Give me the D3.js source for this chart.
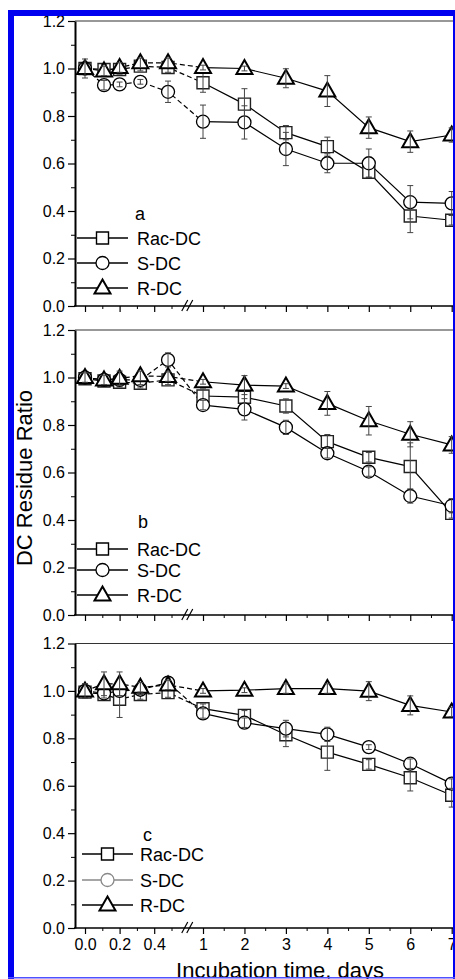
<!DOCTYPE html>
<html><head><meta charset="utf-8">
<script src="https://cdn.jsdelivr.net/npm/d3@7"></script>
<style>
html,body{margin:0;padding:0;background:#fff;overflow:hidden;}
svg{display:block;}
text{font-family:"Liberation Sans",Arial,sans-serif;fill:#000;}
</style></head><body>
<svg id="chart" width="455" height="979"></svg>
<script>
// ---- data ----
const times = [0, 0.11, 0.2, 0.32, 0.48, 1, 2, 3, 4, 5, 6, 7];
const xMajorTicks = [0, 0.2, 0.4, 1, 2, 3, 4, 5, 6, 7];
const xMinorTicks = [0.1, 0.3, 0.5, 1.5, 2.5, 3.5, 4.5, 5.5, 6.5];
const xTickLabels = ["0.0", "0.2", "0.4", "1", "2", "3", "4", "5", "6", "7"];
const yMajorTicks = [0, 0.2, 0.4, 0.6, 0.8, 1.0, 1.2];
const yMinorTicks = [0.1, 0.3, 0.5, 0.7, 0.9, 1.1];
const seriesNames = ["Rac-DC", "S-DC", "R-DC"];
const panelLetters = ["a", "b", "c"];

const racA = [1.00, 0.996, 0.996, 1.01, 1.004, 0.94, 0.85, 0.73, 0.671, 0.563, 0.379, 0.361];
const sA   = [1.00, 0.93, 0.933, 0.944, 0.902, 0.776, 0.773, 0.661, 0.601, 0.601, 0.437, 0.432];
const rA   = [1.00, 0.99, 1.004, 1.024, 1.024, 1.004, 1.0, 0.959, 0.905, 0.751, 0.692, 0.72];
const racErrA = [0.02, 0.02, 0.02, 0.02, 0.02, 0.04, 0.065, 0.03, 0.04, 0.02, 0.07, 0.02];
const sErrA   = [0.02, 0.02, 0.01, 0.01, 0.045, 0.07, 0.07, 0.07, 0.04, 0.06, 0.07, 0.05];
const rErrA   = [0.04, 0.02, 0.02, 0.02, 0.02, 0.01, 0.01, 0.04, 0.065, 0.045, 0.045, 0.03];

const racB = [0.995, 0.985, 0.98, 0.976, 0.99, 0.922, 0.917, 0.88, 0.73, 0.664, 0.625, 0.428];
const sB   = [1.0, 0.99, 0.99, 0.99, 1.074, 0.884, 0.866, 0.79, 0.681, 0.604, 0.501, 0.46];
const rB   = [1.0, 0.99, 0.997, 1.007, 1.004, 0.982, 0.968, 0.964, 0.891, 0.818, 0.761, 0.716];
const racErrB = [0.02, 0.02, 0.02, 0.02, 0.02, 0.03, 0.03, 0.03, 0.03, 0.02, 0.1, 0.02];
const sErrB   = [0.02, 0.02, 0.02, 0.02, 0.03, 0.02, 0.045, 0.03, 0.02, 0.02, 0.03, 0.03];
const rErrB   = [0.02, 0.02, 0.03, 0.02, 0.02, 0.01, 0.04, 0.01, 0.05, 0.06, 0.053, 0.035];

const racC = [0.995, 0.985, 0.965, 0.985, 0.993, 0.925, 0.897, 0.815, 0.742, 0.69, 0.634, 0.56];
const sC   = [1.0, 0.99, 1.0, 1.005, 1.035, 0.905, 0.866, 0.841, 0.817, 0.763, 0.693, 0.609];
const rC   = [1.0, 1.03, 1.03, 1.015, 1.025, 1.0, 1.003, 1.01, 1.01, 0.999, 0.939, 0.911];
const racErrC = [0.02, 0.02, 0.077, 0.02, 0.02, 0.02, 0.02, 0.05, 0.077, 0.02, 0.056, 0.05];
const sErrC   = [0.03, 0.02, 0.02, 0.02, 0.02, 0.02, 0.02, 0.035, 0.03, 0.01, 0.02, 0.02];
const rErrC   = [0.03, 0.05, 0.05, 0.02, 0.02, 0.01, 0.01, 0.02, 0.02, 0.04, 0.04, 0.02];

const panelsValues = [[racA, sA, rA], [racB, sB, rB], [racC, sC, rC]];
const panelsErrors = [[racErrA, sErrA, rErrA], [racErrB, sErrB, rErrB], [racErrC, sErrC, rErrC]];

// ---- layout ----
const svg = d3.select("#chart");
const W = 455, H = 979;
const axisX = 75;
const panelTop = [21, 330, 643.5];
const panelBottom = [306, 615, 928];
const legendRows = [[-68, -43, -18], [-66, -45, -20], [-74, -48, -23]];
const legendLabelY = [-86, -87, -87];
const legendX = [[77, 128, 137, 135], [77, 128, 137, 138], [82, 133, 140, 143]];

const x = d3.scaleLinear().domain([0, 0.5, 1, 7]).range([85, 171.5, 203, 451.7]);

function markerPath(kind) {
  if (kind === 0) return "M-6,-6H6V6H-6Z";
  if (kind === 1) return d3.symbol(d3.symbolCircle, Math.PI * 6.5 * 6.5)();
  return "M0,-8.5L8,5.5L-8,5.5Z";
}
const markerStroke = [1.4, 1.3, 2];

panelsValues.forEach((vals, p) => {
  const top = panelTop[p], bot = panelBottom[p];
  const y = d3.scaleLinear().domain([0, 1.2]).range([bot, top]);
  const g = svg.append("g");

  // top frame line
  g.append("line").attr("x1", axisX).attr("x2", W).attr("y1", top).attr("y2", top)
    .attr("stroke", "#333").attr("stroke-width", 1.2);

  // y axis
  const yAxis = g.append("g").attr("transform", `translate(${axisX},0)`)
    .call(d3.axisLeft(y).tickValues(yMajorTicks).tickFormat(d3.format(".1f")).tickSize(7).tickSizeOuter(0).tickPadding(3));
  yAxis.select(".domain").attr("stroke-width", 2);
  yAxis.selectAll(".tick line").attr("stroke-width", 1.2);
  yAxis.selectAll("text").attr("font-size", 16).style("font-family", "Liberation Sans, Arial, sans-serif");
  const yMinor = g.append("g").attr("transform", `translate(${axisX},0)`)
    .call(d3.axisLeft(y).tickValues(yMinorTicks).tickFormat("").tickSize(4).tickSizeOuter(0));
  yMinor.select(".domain").remove();

  // x axis
  g.append("line").attr("x1", axisX - 1).attr("x2", W).attr("y1", bot).attr("y2", bot)
    .attr("stroke", "#000").attr("stroke-width", 1.6);
  const xAxis = g.append("g").attr("transform", `translate(0,${bot})`)
    .call(d3.axisBottom(x).tickValues(xMajorTicks)
      .tickFormat((d, i) => p === 2 ? xTickLabels[i] : "").tickSize(6).tickSizeOuter(0).tickPadding(5));
  xAxis.select(".domain").remove();
  xAxis.selectAll(".tick line").attr("stroke-width", 1.2);
  xAxis.selectAll("text").attr("font-size", 16).style("font-family", "Liberation Sans, Arial, sans-serif");
  const xMinor = g.append("g").attr("transform", `translate(0,${bot})`)
    .call(d3.axisBottom(x).tickValues(xMinorTicks).tickFormat("").tickSize(3).tickSizeOuter(0));
  xMinor.select(".domain").remove();

  // axis break //
  const bx = (x(0.5) + x(1)) / 2;
  [-2.5, 2.5].forEach(o => {
    g.append("line").attr("x1", bx + o - 3).attr("y1", bot + 5).attr("x2", bx + o + 3).attr("y2", bot - 6)
      .attr("stroke", "#000").attr("stroke-width", 1.2);
  });

  // series
  const order = [0, 1, 2];
  order.forEach(s => {
    const v = vals[s];
    const pts = times.map((t, i) => [x(t), y(v[i])]);
    const line = d3.line();
    g.append("path").attr("d", line(pts.slice(0, 6))).attr("fill", "none")
      .attr("stroke", "#000").attr("stroke-width", 1.2).attr("stroke-dasharray", "5,3");
    g.append("path").attr("d", line(pts.slice(5))).attr("fill", "none")
      .attr("stroke", "#000").attr("stroke-width", 1.2);
  });
  order.forEach(s => {
    const v = vals[s], e = panelsErrors[p][s];
    const mg = g.append("g");
    mg.selectAll("path").data(times).join("path")
      .attr("transform", (t, i) => `translate(${x(t)},${y(v[i])})`)
      .attr("d", markerPath(s)).attr("fill", "#fff").attr("stroke", s === 0 ? "#222" : "#000")
      .attr("stroke-width", markerStroke[s]);
    const eg = g.append("g").attr("stroke", "#444").attr("stroke-width", 1);
    times.forEach((t, i) => {
      const cx = x(t), y1 = y(v[i] + e[i]), y2 = y(v[i] - e[i]);
      eg.append("line").attr("x1", cx).attr("x2", cx).attr("y1", y1).attr("y2", y2);
      eg.append("line").attr("x1", cx - 3).attr("x2", cx + 3).attr("y1", y1).attr("y2", y1);
      eg.append("line").attr("x1", cx - 3).attr("x2", cx + 3).attr("y1", y2).attr("y2", y2);
    });
  });

  // legend
  const [lx1, lx2, tx, labx] = legendX[p];
  g.append("text").attr("x", labx).attr("y", bot + legendLabelY[p]).attr("font-size", 18).text(panelLetters[p]);
  seriesNames.forEach((name, s) => {
    const ly = bot + legendRows[p][s];
    const col = (p === 2 && s === 1) ? "#888" : "#000";
    g.append("line").attr("x1", lx1).attr("x2", lx2).attr("y1", ly).attr("y2", ly)
      .attr("stroke", col).attr("stroke-width", 1.3);
    g.append("path").attr("transform", `translate(${(lx1 + lx2) / 2},${ly})`)
      .attr("d", markerPath(s)).attr("fill", "#fff").attr("stroke", col).attr("stroke-width", markerStroke[s]);
    g.append("text").attr("x", tx).attr("y", ly + 6.5).attr("font-size", 18).text(name);
  });
});

// axis titles
svg.append("text").attr("transform", "translate(32,478) rotate(-90)")
  .attr("text-anchor", "middle").attr("font-size", 22).text("DC Residue Ratio");
svg.append("text").attr("x", 280).attr("y", 978).attr("text-anchor", "middle")
  .attr("font-size", 22).text("Incubation time, days");

// blue frame
svg.append("rect").attr("x", 8).attr("y", 10).attr("width", 6).attr("height", H - 10).attr("fill", "#0000f0");
svg.append("rect").attr("x", 8).attr("y", 10).attr("width", W - 8).attr("height", 6).attr("fill", "#0000f0");
svg.append("rect").attr("x", 453).attr("y", 10).attr("width", 2).attr("height", H - 10).attr("fill", "#0000f0");
svg.append("rect").attr("x", 8).attr("y", 977).attr("width", W - 8).attr("height", 1.5).attr("fill", "#5050ff");
</script>
</body></html>
